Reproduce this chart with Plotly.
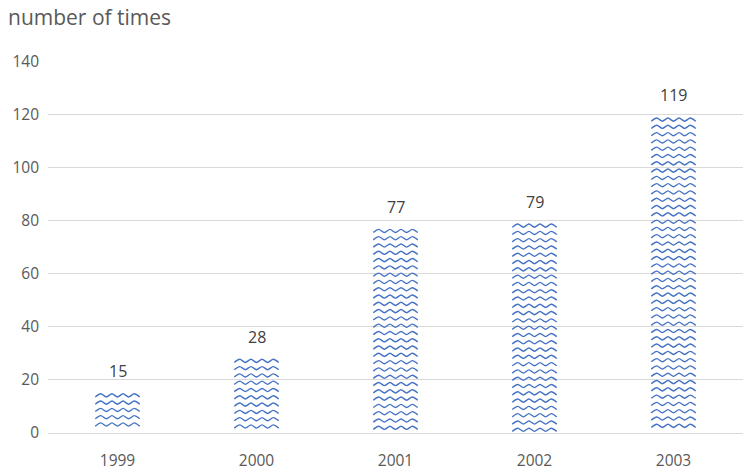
import plotly.graph_objects as go

years = ["1999", "2000", "2001", "2002", "2003"]
counts = [15, 28, 77, 79, 119]

y_max = 140
bar_width = 0.32
blue = "#4472C4"
font_family = "Open Sans, Noto Sans, sans-serif"

# wavy hatch texture: smooth zigzag rows drawn inside each bar, in data units
row_step = 2.75    # vertical gap between wave rows
amp = 1.2          # wave height
half_period = 0.04 # horizontal half wavelength (category units)

fig = go.Figure()

fig.add_trace(go.Bar(
    x=list(range(len(years))), y=counts, width=bar_width,
    marker=dict(color="rgba(255,255,255,0)", line=dict(width=0)),
    hoverinfo="skip", showlegend=False,
))

for i, v in enumerate(counts):
    xs, ys = [], []
    left = i - bar_width / 2
    n_steps = int(round(bar_width / half_period))
    top = v - 0.2
    while top - amp >= 0.2:
        for k in range(n_steps + 1):
            xs.append(left + k * bar_width / n_steps)
            ys.append(top - (0 if k % 2 == 1 else amp))
        xs.append(None)
        ys.append(None)
        top -= row_step
    fig.add_trace(go.Scatter(
        x=xs, y=ys, mode="lines",
        line=dict(color=blue, width=1.4, shape="spline", smoothing=0.8),
        hoverinfo="skip", showlegend=False,
    ))

for i, v in enumerate(counts):
    fig.add_annotation(
        x=i, y=v, text=str(v), showarrow=False,
        yanchor="bottom", yshift=9,
        font=dict(family=font_family, size=16, color="#404040"),
    )

fig.add_annotation(
    xref="paper", yref="paper", x=-0.06, y=1.118, xanchor="left", yanchor="middle",
    text="number of times", showarrow=False,
    font=dict(family=font_family, size=21, color="#595959"),
)

fig.update_layout(
    width=753, height=471,
    margin=dict(l=48, r=10, t=61, b=38),
    plot_bgcolor="white", paper_bgcolor="white",
    xaxis=dict(
        tickmode="array", tickvals=list(range(len(years))), ticktext=years,
        range=[-0.5, len(years) - 0.5], showgrid=False, zeroline=False,
        showline=False, ticks="", ticklabelstandoff=16, automargin=False,
        tickfont=dict(family=font_family, size=15.5, color="#595959"),
    ),
    yaxis=dict(
        range=[0, y_max + 0.3], dtick=20, showgrid=True, gridcolor="#d9d9d9", gridwidth=1,
        zeroline=True, zerolinecolor="#d9d9d9", zerolinewidth=1, showline=False,
        ticks="", ticklabelstandoff=8, automargin=False,
        tickfont=dict(family=font_family, size=15.5, color="#595959"),
    ),
)

fig.write_html("out.html")
